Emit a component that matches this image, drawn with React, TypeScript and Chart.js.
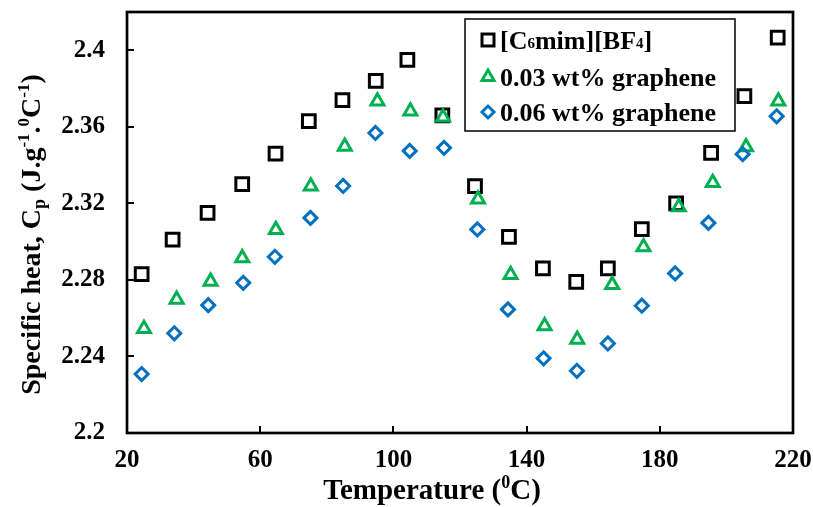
import React, { useEffect, useRef } from "react";
import { Chart, registerables } from "chart.js";

Chart.register(...registerables);

const seriesLabels = ["[C₆mim][BF₄]", "0.03 wt% graphene", "0.06 wt% graphene"];
const seriesColors = ["#000000", "#00B050", "#0070C0"];
const seriesShapes = ["rect", "triangle", "rectRot"];

const tempBase = [24.4, 33.7, 44.2, 54.6, 64.6, 74.6, 84.7, 94.7, 104.2, 114.7, 124.5, 134.7, 144.9, 154.9, 164.4, 174.6, 184.9, 195.4, 205.4, 215.4];
const cpBase = [2.283, 2.301, 2.315, 2.33, 2.346, 2.363, 2.374, 2.384, 2.395, 2.366, 2.329, 2.3025, 2.286, 2.279, 2.286, 2.3065, 2.32, 2.3464, 2.376, 2.4066];

const temp003 = [25.1, 34.9, 45.1, 54.6, 64.7, 75.2, 85.4, 95.2, 105.1, 114.9, 125.4, 135.2, 145.4, 155.2, 165.7, 175.1, 185.7, 195.9, 205.9, 215.6];
const cp003 = [2.2545, 2.2697, 2.2792, 2.2914, 2.3062, 2.3289, 2.3497, 2.3734, 2.3682, 2.365, 2.3221, 2.2827, 2.2559, 2.2488, 2.2775, 2.2972, 2.3181, 2.3308, 2.3494, 2.3733];

const temp006 = [24.4, 34.2, 44.4, 54.9, 64.4, 75.1, 84.9, 94.6, 104.9, 115.2, 125.2, 134.4, 145.1, 155.1, 164.4, 174.6, 184.6, 194.6, 204.9, 215.1];
const cp006 = [2.2308, 2.2521, 2.2668, 2.2785, 2.2921, 2.3124, 2.3291, 2.3568, 2.3474, 2.349, 2.3064, 2.2646, 2.239, 2.2325, 2.2468, 2.2665, 2.2834, 2.3098, 2.3457, 2.3655];

const xMin = 20;
const xMax = 220;
const xStep = 40;
const yMin = 2.2;
const yMax = 2.42;
const yStep = 0.04;

const FONT = "'Liberation Serif', 'Times New Roman', serif";

type Part = { t: string; s: number; dy: number };

function drawRich(ctx: CanvasRenderingContext2D, parts: Part[], x: number, y: number) {
  let total = 0;
  for (const p of parts) {
    ctx.font = `bold ${p.s}px ${FONT}`;
    total += ctx.measureText(p.t).width;
  }
  let cx = x - total / 2;
  ctx.textAlign = "left";
  ctx.textBaseline = "alphabetic";
  for (const p of parts) {
    ctx.font = `bold ${p.s}px ${FONT}`;
    ctx.fillText(p.t, cx, y + p.dy);
    cx += ctx.measureText(p.t).width;
  }
}

function drawRichLeft(ctx: CanvasRenderingContext2D, parts: Part[], x: number, y: number) {
  let cx = x;
  ctx.textAlign = "left";
  ctx.textBaseline = "alphabetic";
  for (const p of parts) {
    ctx.font = `bold ${p.s}px ${FONT}`;
    ctx.fillText(p.t, cx, y + p.dy);
    cx += ctx.measureText(p.t).width;
  }
}

function drawMarker(ctx: CanvasRenderingContext2D, shape: string, x: number, y: number, color: string) {
  ctx.save();
  ctx.strokeStyle = color;
  ctx.lineWidth = 3;
  ctx.beginPath();
  if (shape === "rect") {
    const h = 6;
    ctx.rect(x - h, y - h, 2 * h, 2 * h);
  } else if (shape === "triangle") {
    const r = 7;
    ctx.moveTo(x, y - r);
    ctx.lineTo(x + r * 0.866, y + r * 0.5);
    ctx.lineTo(x - r * 0.866, y + r * 0.5);
    ctx.closePath();
  } else {
    const r = 6;
    ctx.moveTo(x - r, y);
    ctx.lineTo(x, y - r);
    ctx.lineTo(x + r, y);
    ctx.lineTo(x, y + r);
    ctx.closePath();
  }
  ctx.stroke();
  ctx.restore();
}

const decorPlugin = {
  id: "decor",
  afterDraw(chart: any) {
    const ctx: CanvasRenderingContext2D = chart.ctx;
    const a = chart.chartArea;
    const xs = chart.scales.x;
    const ys = chart.scales.y;
    ctx.save();
    // frame
    ctx.strokeStyle = "#000";
    ctx.lineWidth = 2.7;
    ctx.strokeRect(a.left, a.top, a.right - a.left, a.bottom - a.top);
    // inside ticks
    ctx.lineWidth = 2;
    ctx.beginPath();
    for (let v = xMin + xStep; v < xMax - 1e-6; v += xStep) {
      const px = Math.round(xs.getPixelForValue(v));
      ctx.moveTo(px, a.bottom);
      ctx.lineTo(px, a.bottom - 7);
    }
    for (let v = yMin + yStep; v <= 2.4 + 1e-6; v += yStep) {
      const py = Math.round(ys.getPixelForValue(v));
      ctx.moveTo(a.left, py);
      ctx.lineTo(a.left + 7, py);
    }
    ctx.stroke();

    ctx.fillStyle = "#000";
    // x title
    drawRich(
      ctx,
      [
        { t: "Temperature (", s: 29, dy: 0 },
        { t: "0", s: 18, dy: -11 },
        { t: "C)", s: 29, dy: 0 },
      ],
      432,
      499
    );
    // y title
    ctx.save();
    ctx.translate(40, (a.top + a.bottom) / 2 + 12);
    ctx.rotate(-Math.PI / 2);
    drawRich(
      ctx,
      [
        { t: "Specific heat, C", s: 28, dy: 0 },
        { t: "p", s: 18, dy: 5 },
        { t: " (J.g", s: 28, dy: 0 },
        { t: "-1", s: 17, dy: -11 },
        { t: ".", s: 28, dy: 0 },
        { t: "0", s: 17, dy: -11 },
        { t: "C", s: 28, dy: 0 },
        { t: "-1", s: 17, dy: -11 },
        { t: ")", s: 28, dy: 0 },
      ],
      0,
      0
    );
    ctx.restore();

    // legend
    const lx = 465;
    const ly = 19;
    const lw = 270;
    const lh = 112;
    ctx.fillStyle = "#fff";
    ctx.fillRect(lx, ly, lw, lh);
    ctx.strokeStyle = "#000";
    ctx.lineWidth = 1.5;
    ctx.strokeRect(lx, ly, lw, lh);
    const rows = [40, 77, 112];
    seriesLabels.forEach((lab, i) => {
      drawMarker(ctx, seriesShapes[i], 488, rows[i], seriesColors[i]);
      ctx.fillStyle = "#000";
      if (i === 0) {
        drawRichLeft(
          ctx,
          [
            { t: "[C", s: 26, dy: 0 },
            { t: "6", s: 15, dy: -1 },
            { t: "mim][BF", s: 26, dy: 0 },
            { t: "4", s: 15, dy: -1 },
            { t: "]", s: 26, dy: 0 },
          ],
          500,
          rows[i] + 9
        );
      } else {
        drawRichLeft(ctx, [{ t: lab, s: 26, dy: 0 }], 500, rows[i] + 9);
      }
    });
    ctx.restore();
  },
};

function makePoints(xs: number[], ys: number[]) {
  return xs.map((x, i) => ({ x, y: ys[i] }));
}

export default function App() {
  const ref = useRef<HTMLCanvasElement | null>(null);
  useEffect(() => {
    if (!ref.current) return;
    const datasets = [
      { data: makePoints(tempBase, cpBase), radius: 9, order: 2 },
      { data: makePoints(temp003, cp003), radius: 7.5, order: 1 },
      { data: makePoints(temp006, cp006), radius: 6.5, order: 0 },
    ].map((d, i) => ({
      label: seriesLabels[i],
      data: d.data,
      order: d.order,
      showLine: false,
      pointStyle: seriesShapes[i],
      pointRadius: d.radius,
      pointHoverRadius: d.radius,
      pointBorderWidth: 3,
      pointBorderColor: seriesColors[i],
      pointBackgroundColor: "rgba(0,0,0,0)",
      borderColor: seriesColors[i],
      backgroundColor: "rgba(0,0,0,0)",
    }));
    const chart = new Chart(ref.current, {
      type: "scatter",
      data: { datasets },
      plugins: [decorPlugin],
      options: {
        animation: false,
        responsive: false,
        devicePixelRatio: 1,
        layout: { padding: { top: 12, right: 20, left: 0, bottom: 0 } },
        plugins: { legend: { display: false }, tooltip: { enabled: false } },
        scales: {
          x: {
            type: "linear",
            min: xMin,
            max: xMax,
            grid: { display: false, drawTicks: false },
            border: { display: false },
            ticks: {
              stepSize: xStep,
              padding: 13,
              color: "#000",
              font: { family: FONT, size: 25, weight: "bold" },
              maxRotation: 0,
            },
            afterFit: (s: any) => {
              s.height = 74;
              s.paddingLeft = 0;
              s.paddingRight = 0;
            },
          },
          y: {
            type: "linear",
            min: yMin,
            max: yMax,
            grid: { display: false, drawTicks: false },
            border: { display: false },
            ticks: {
              stepSize: yStep,
              padding: 22,
              color: "#000",
              font: { family: FONT, size: 25, weight: "bold" },
              callback: (v: any) => {
                const n = Number(v);
                if (n > 2.4 + 1e-6) return "";
                return String(Math.round(n * 100) / 100);
              },
            },
            afterFit: (s: any) => {
              s.width = 127;
              s.paddingTop = 0;
              s.paddingBottom = 0;
            },
          },
        },
      } as any,
    });
    return () => chart.destroy();
  }, []);
  return (
    <div style={{ position: "fixed", left: 0, top: 0, width: 813, height: 507, background: "#fff" }}>
      <canvas ref={ref} width={813} height={507} style={{ width: 813, height: 507 }} />
    </div>
  );
}
